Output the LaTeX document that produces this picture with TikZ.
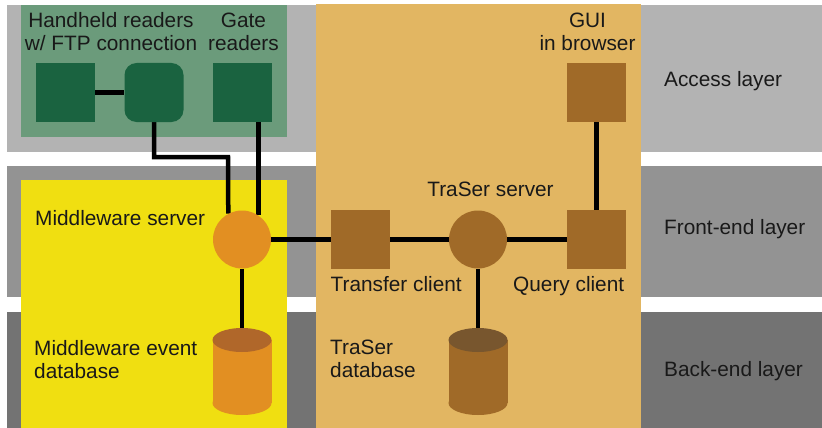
\documentclass[tikz,border=0pt]{standalone}
\usepackage{fontspec}
\setmainfont{Liberation Sans}
\pgfdeclarelayer{back}
\pgfdeclarelayer{wires}
\pgfsetlayers{back,wires,main}
\definecolor{accessgray}{HTML}{B3B3B3}
\definecolor{frontgray}{HTML}{939393}
\definecolor{backendgray}{HTML}{737373}
\definecolor{readergreen}{HTML}{6B9B7B}
\definecolor{nodegreen}{HTML}{1A6340}
\definecolor{tanbox}{HTML}{E2B662}
\definecolor{mwyellow}{HTML}{F0DF11}
\definecolor{mworange}{HTML}{E28F22}
\definecolor{mwtop}{HTML}{B0672A}
\definecolor{tsbrown}{HTML}{A06A28}
\definecolor{tstop}{HTML}{78562E}
\begin{document}
\begin{tikzpicture}[x=1pt,y=-1pt,
  font=\fontsize{20.8}{23}\selectfont,
  sqnode/.style={rectangle, minimum size=59pt, inner sep=0pt},
  cirnode/.style={circle, minimum size=58pt, inner sep=0pt},
  wire/.style={line width=4.5pt, black},
  lbl/.style={inner sep=0pt, text=black!90},
  lblc/.style={lbl, align=center, anchor=north},
  lbll/.style={lbl, align=left, anchor=north west}]
\useasboundingbox (0,0) rectangle (822,428);
\begin{pgfonlayer}{back}
  \fill[accessgray] (7,5) rectangle (822,152);
  \fill[frontgray] (7,166) rectangle (822,297);
  \fill[backendgray] (7,312) rectangle (822,428);
  \fill[readergreen] (21,5) rectangle (287,137);
  \fill[tanbox] (316,4) rectangle (641,428);
  \fill[mwyellow] (21,180) rectangle (287,428);
\end{pgfonlayer}
% nodes
\node[sqnode, fill=nodegreen] (hh1) at (65.5,92.5) {};
\node[sqnode, fill=nodegreen, rounded corners=12pt] (hh2) at (154,92.5) {};
\node[sqnode, fill=nodegreen] (gate) at (242.5,92.5) {};
\node[sqnode, fill=tsbrown] (gui) at (596.5,92.5) {};
\node[cirnode, fill=mworange] (mw) at (242,239.5) {};
\node[sqnode, fill=tsbrown] (tc) at (360.5,239.5) {};
\node[cirnode, fill=tsbrown] (ts) at (478,239.5) {};
\node[sqnode, fill=tsbrown] (qc) at (596.5,239.5) {};
% databases
\fill[mworange] (212.5,340) rectangle (271.5,403);
\fill[mworange] (242,403) ellipse [x radius=29.5, y radius=12];
\fill[mwtop] (242,340) ellipse [x radius=29.5, y radius=12];
\coordinate (mwdb) at (242,340);
\fill[tsbrown] (448.5,340) rectangle (507.5,403);
\fill[tsbrown] (478,403) ellipse [x radius=29.5, y radius=12];
\fill[tstop] (478,340) ellipse [x radius=29.5, y radius=12];
\coordinate (tsdb) at (478,340);
\coordinate (bend) at (228,157);
% wires
\begin{pgfonlayer}{wires}
  \draw[wire] (hh1) -- (hh2);
  \draw[wire] (hh2.center) |- (bend) -- (mw.118.9);
  \draw[wire] (mw.56.5) -- (mw.56.5 |- gate.center);
  \draw[wire] (mw) -- (tc) -- (ts) -- (qc);
  \draw[wire] (qc) -- (gui);
  \draw[wire] (ts) -- (tsdb);
  \draw[wire] (mw) -- (mwdb);
\end{pgfonlayer}
% labels
\node[lblc] (lhh) at (111,12.6) {Handheld readers\\w/ FTP connection};
\node[lblc] (lgate) at (243.5,12.6) {Gate\\readers};
\node[lblc] (lgui) at (587.5,12.6) {GUI\\in browser};
\node[lbl, anchor=base west] (lacc) at (664,86) {Access layer};
\node[lbl, anchor=base west] (lfront) at (664,234.5) {Front-end layer};
\node[lbl, anchor=base west] (lback) at (664,376) {Back-end layer};
\node[lbl, anchor=base west] (lmw) at (35,225) {Middleware server};
\node[lbl, anchor=base] (lts) at (490.5,196) {TraSer server};
\node[lbl, anchor=base west] (ltc) at (330.5,291) {Transfer client};
\node[lbl, anchor=base west] (lqc) at (513,291) {Query client};
\node[lbll] (lmwdb) at (34,340) {Middleware event\\database};
\node[lbll] (ltsdb) at (330,340) {TraSer\\database};
\end{tikzpicture}
\end{document}
